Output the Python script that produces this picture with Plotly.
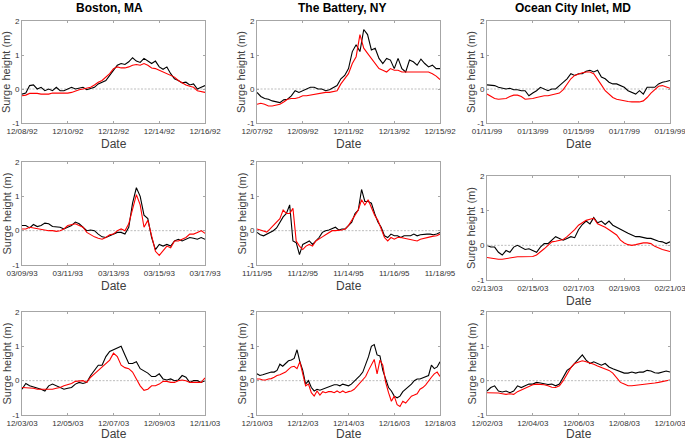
import numpy as np
import pandas as pd
import plotly.graph_objects as go

stations = ['Boston, MA', 'The Battery, NY', 'Ocean City Inlet, MD']

# ---- storm windows: start date, length (days), sampling step (hours)
bos92_start, bos92_days, bos92_step = '1992-12-08', 8, 4
bat92_start, bat92_days, bat92_step = '1992-12-07', 8, 4
oci99_start, oci99_days, oci99_step = '1999-01-11', 8, 4
bos93_start, bos93_days, bos93_step = '1993-03-09', 8, 4
bat95_start, bat95_days, bat95_step = '1995-11-11', 7, 3
oci03a_start, oci03a_days, oci03a_step = '2003-02-13', 8, 4
bos03_start, bos03_days, bos03_step = '2003-12-03', 8, 4
bat03_start, bat03_days, bat03_step = '2003-12-10', 8, 3
oci03b_start, oci03b_days, oci03b_step = '2003-12-02', 8, 4

# ---- tick labels
bos92_ticks = ['12/08/92', '12/10/92', '12/12/92', '12/14/92', '12/16/92']
bat92_ticks = ['12/07/92', '12/09/92', '12/11/92', '12/13/92', '12/15/92']
oci99_ticks = ['01/11/99', '01/13/99', '01/15/99', '01/17/99', '01/19/99']
bos93_ticks = ['03/09/93', '03/11/93', '03/13/93', '03/15/93', '03/17/93']
bat95_ticks = ['11/11/95', '11/12/95', '11/14/95', '11/16/95', '11/18/95']
oci03a_ticks = ['02/13/03', '02/15/03', '02/17/03', '02/19/03', '02/21/03']
bos03_ticks = ['12/03/03', '12/05/03', '12/07/03', '12/09/03', '12/11/03']
bat03_ticks = ['12/10/03', '12/12/03', '12/14/03', '12/16/03', '12/18/03']
oci03b_ticks = ['12/02/03', '12/04/03', '12/06/03', '12/08/03', '12/10/03']

# ---- observed (black) and modelled (red) surge, m
bos92_obs = [-0.15, -0.12, 0.1, 0.12, 0.0, 0.05, -0.05, 0.0, -0.05, 0.05, -0.05, -0.05,
             0.0, 0.05, 0.0, 0.02, 0.05, -0.02, 0.02, 0.05, 0.15, 0.2, 0.25, 0.4,
             0.55, 0.7, 0.75, 0.72, 0.8, 0.92, 0.82, 0.78, 0.9, 0.82, 0.75, 0.82,
             0.65, 0.58, 0.65, 0.45, 0.3, 0.25, 0.18, 0.2, 0.12, 0.15, 0.0, 0.05, 0.1]
bos92_mod = [-0.2, -0.18, -0.13, -0.12, -0.13, -0.15, -0.15, -0.15, -0.12, -0.12, -0.12, -0.13,
             -0.12, -0.1, -0.05, -0.02, 0.0, 0.02, 0.05, 0.12, 0.2, 0.25, 0.35, 0.45,
             0.6, 0.65, 0.62, 0.62, 0.65, 0.7, 0.72, 0.7, 0.75, 0.7, 0.62, 0.6,
             0.55, 0.5, 0.45, 0.42, 0.35, 0.25, 0.18, 0.12, 0.08, 0.05, -0.05, -0.08, -0.1]

bat92_obs = [-0.1, -0.22, -0.28, -0.3, -0.35, -0.38, -0.4, -0.32, -0.3, -0.2, -0.05, -0.1,
             -0.05, 0.0, 0.05, 0.05, 0.0, 0.0, -0.05, -0.02, 0.05, 0.1, 0.3, 0.4,
             0.6, 1.1, 1.3, 1.1, 1.75, 1.6, 1.15, 1.2, 0.9, 0.75, 0.9, 0.85,
             0.6, 0.9, 0.6, 0.5, 0.85, 0.8, 0.7, 0.88, 0.75, 0.65, 0.7, 0.6, 0.6]
bat92_mod = [-0.45, -0.42, -0.45, -0.5, -0.5, -0.48, -0.45, -0.38, -0.3, -0.28, -0.28, -0.25,
             -0.2, -0.2, -0.18, -0.15, -0.15, -0.12, -0.1, -0.1, -0.08, -0.05, 0.15, 0.3,
             0.45, 0.75, 0.95, 1.6, 1.2, 1.05, 0.9, 0.75, 0.6, 0.55, 0.5, 0.6,
             0.55, 0.55, 0.5, 0.5, 0.5, 0.5, 0.52, 0.52, 0.52, 0.5, 0.45, 0.38, 0.28]

oci99_obs = [0.12, 0.1, 0.1, 0.05, 0.02, 0.0, 0.02, -0.02, -0.02, -0.05, -0.05, -0.2,
             -0.12, -0.05, 0.05, 0.0, -0.05, 0.0, 0.0, 0.1, 0.2, 0.3, 0.45, 0.4,
             0.45, 0.45, 0.52, 0.55, 0.5, 0.55, 0.35, 0.3, 0.2, 0.15, 0.15, 0.1,
             0.05, -0.05, -0.1, -0.15, -0.05, -0.15, 0.05, 0.05, 0.05, 0.15, 0.2, 0.22, 0.25]
oci99_mod = [-0.15, -0.22, -0.28, -0.3, -0.3, -0.28, -0.22, -0.18, -0.18, -0.22, -0.3, -0.3,
             -0.28, -0.25, -0.22, -0.2, -0.2, -0.18, -0.15, -0.12, -0.02, 0.15, 0.3, 0.4,
             0.45, 0.48, 0.5, 0.5, 0.45, 0.3, 0.12, -0.05, -0.15, -0.25, -0.3, -0.33,
             -0.35, -0.37, -0.38, -0.38, -0.38, -0.35, -0.25, -0.12, -0.02, 0.08, 0.1, 0.05, 0.02]

bos93_obs = [0.15, 0.15, 0.08, 0.18, 0.12, 0.15, 0.22, 0.2, 0.12, 0.1, 0.1, 0.05,
             0.1, 0.15, 0.25, 0.2, 0.1, 0.0, 0.02, 0.0, -0.1, -0.18, -0.2, -0.15,
             -0.1, -0.05, -0.05, -0.1, 0.1, 0.8, 1.25, 1.0, 0.45, 0.35, -0.2, -0.55,
             -0.4, -0.45, -0.4, -0.45, -0.3, -0.25, -0.3, -0.25, -0.2, -0.22, -0.25, -0.2, -0.25]
bos93_mod = [0.05, 0.05, 0.1, 0.08, 0.05, 0.03, 0.02, 0.0, 0.0, -0.02, 0.0, 0.05,
             0.15, 0.18, 0.2, 0.15, 0.1, -0.05, -0.12, -0.18, -0.22, -0.25, -0.2, -0.12,
             -0.1, 0.0, 0.05, 0.0, 0.2, 0.6, 1.05, 0.75, 0.1, 0.3, -0.2, -0.6,
             -0.72, -0.6, -0.45, -0.5, -0.3, -0.3, -0.25, -0.2, -0.1, -0.1, -0.05, 0.0, -0.08]

bat95_obs = [-0.05, -0.12, -0.15, -0.1, -0.05, 0.0, 0.08, 0.25, 0.4, 0.5, 0.75, -0.3,
             -0.35, -0.7, -0.4, -0.35, -0.3, -0.4, -0.3, -0.2, -0.05, 0.0, 0.02, 0.05,
             0.1, 0.02, 0.05, 0.05, 0.15, 0.25, 0.5, 0.6, 1.2, 0.85, 0.85, 0.8,
             0.5, 0.25, 0.1, -0.15, -0.2, -0.1, -0.15, -0.15, -0.2, -0.15, -0.15, -0.15,
             -0.1, -0.15, -0.12, -0.1, -0.1, -0.1, -0.12, -0.1, -0.05]
bat95_mod = [0.05, 0.02, -0.03, -0.04, 0.05, 0.15, 0.22, 0.35, 0.6, 0.5, 0.5, 0.65,
             -0.3, -0.45, -0.55, -0.45, -0.4, -0.45, -0.3, -0.25, -0.18, -0.12, -0.05, 0.0,
             0.0, 0.0, 0.02, 0.05, 0.15, 0.3, 0.45, 0.6, 0.9, 0.75, 0.9, 0.65,
             0.45, 0.3, 0.05, -0.2, -0.3, -0.2, -0.25, -0.2, -0.2, -0.22, -0.25, -0.28,
             -0.3, -0.3, -0.25, -0.22, -0.2, -0.18, -0.16, -0.15, -0.1]

oci03a_obs = [0.0, -0.05, -0.05, -0.2, -0.28, -0.15, -0.2, -0.05, 0.0, -0.05, -0.12, -0.1,
              -0.15, -0.2, -0.05, 0.05, 0.05, 0.15, 0.25, 0.2, 0.15, 0.2, 0.25, 0.22,
              0.45, 0.6, 0.7, 0.62, 0.8, 0.65, 0.7, 0.6, 0.7, 0.58, 0.52, 0.45,
              0.4, 0.35, 0.3, 0.25, 0.25, 0.22, 0.2, 0.2, 0.15, 0.12, 0.1, 0.05, 0.1]
oci03a_mod = [-0.35, -0.37, -0.38, -0.4, -0.4, -0.38, -0.35, -0.35, -0.33, -0.33, -0.33, -0.32,
              -0.32, -0.28, -0.2, -0.1, 0.0, 0.1, 0.12, 0.14, 0.17, 0.25, 0.35, 0.45,
              0.58, 0.65, 0.72, 0.75, 0.78, 0.62, 0.58, 0.52, 0.45, 0.38, 0.3, 0.15,
              0.07, 0.02, 0.0, 0.02, 0.05, 0.07, 0.07, 0.05, -0.03, -0.08, -0.12, -0.15, -0.18]

bos03_obs = [-0.25, -0.08, -0.15, -0.18, -0.22, -0.25, -0.3, -0.15, -0.1, -0.15, -0.22, -0.25,
             -0.22, -0.2, -0.1, -0.05, -0.08, -0.05, 0.15, 0.3, 0.45, 0.45, 0.7, 0.85,
             0.9, 0.95, 1.0, 0.75, 0.5, 0.5, 0.55, 0.35, 0.28, 0.22, 0.12, 0.12,
             0.2, 0.05, 0.02, 0.05, 0.0, 0.02, 0.15, 0.1, -0.05, 0.0, 0.0, -0.05, 0.0]
bos03_mod = [-0.2, -0.2, -0.2, -0.22, -0.25, -0.25, -0.25, -0.25, -0.25, -0.22, -0.2, -0.15,
             -0.12, -0.08, -0.02, 0.0, 0.0, -0.05, 0.1, 0.2, 0.3, 0.4, 0.5, 0.6,
             0.8, 0.7, 0.45, 0.38, 0.35, 0.25, 0.05, -0.15, -0.28, -0.25, -0.15, -0.15,
             -0.1, -0.02, -0.02, -0.05, -0.05, 0.0, 0.02, 0.0, -0.05, -0.05, -0.05, -0.05, 0.08]

bat03_obs = [0.2, 0.15, 0.17, 0.2, 0.22, 0.25, 0.25, 0.3, 0.48, 0.42, 0.5, 0.58,
             0.6, 0.65, 0.9, 0.55, 0.3, -0.1, 0.0, -0.2, -0.3, -0.25, -0.28, -0.25,
             -0.2, -0.18, -0.15, -0.12, -0.12, -0.15, -0.1, -0.12, -0.15, -0.1, -0.02, 0.05,
             0.15, 0.25, 0.45, 0.7, 1.0, 1.05, 0.75, 0.72, 0.3, 0.05, -0.2, -0.3,
             -0.45, -0.5, -0.45, -0.32, -0.25, -0.18, -0.1, 0.0, 0.05, 0.05, 0.08, 0.1,
             0.15, 0.45, 0.35, 0.4, 0.55]
bat03_mod = [0.05, 0.05, 0.02, 0.02, 0.05, 0.06, 0.1, 0.15, 0.17, 0.2, 0.25, 0.33,
             0.4, 0.42, 0.35, 0.55, 0.15, -0.15, -0.1, -0.35, -0.45, -0.3, -0.42, -0.32,
             -0.35, -0.32, -0.32, -0.35, -0.3, -0.35, -0.3, -0.35, -0.32, -0.3, -0.25, -0.15,
             -0.05, 0.05, 0.12, 0.3, 0.45, 0.62, 0.2, 0.6, 0.45, -0.05, -0.35, -0.6,
             -0.45, -0.7, -0.75, -0.6, -0.65, -0.55, -0.45, -0.42, -0.38, -0.25, -0.2, -0.12,
             0.0, 0.1, 0.2, 0.25, 0.12]

oci03b_obs = [-0.3, -0.2, -0.15, -0.3, -0.33, -0.3, -0.35, -0.3, -0.15, -0.2, -0.15, -0.1,
              -0.1, -0.05, -0.07, -0.1, -0.11, -0.1, -0.15, -0.1, 0.1, 0.3, 0.38, 0.5,
              0.62, 0.75, 0.6, 0.5, 0.55, 0.5, 0.45, 0.5, 0.4, 0.35, 0.3, 0.25,
              0.22, 0.22, 0.25, 0.22, 0.25, 0.25, 0.3, 0.28, 0.23, 0.22, 0.25, 0.28, 0.25]
oci03b_mod = [-0.35, -0.35, -0.35, -0.36, -0.38, -0.4, -0.38, -0.4, -0.32, -0.27, -0.22, -0.17,
              -0.12, -0.1, -0.1, -0.12, -0.15, -0.19, -0.2, -0.15, 0.0, 0.2, 0.38, 0.5,
              0.55, 0.58, 0.55, 0.52, 0.48, 0.43, 0.38, 0.33, 0.3, 0.22, 0.1, -0.05,
              -0.1, -0.15, -0.15, -0.14, -0.13, -0.12, -0.1, -0.09, -0.07, -0.05, -0.02, 0.0, 0.02]

panels = [
    (bos92_start, bos92_days, bos92_step, bos92_obs, bos92_mod, bos92_ticks),
    (bat92_start, bat92_days, bat92_step, bat92_obs, bat92_mod, bat92_ticks),
    (oci99_start, oci99_days, oci99_step, oci99_obs, oci99_mod, oci99_ticks),
    (bos93_start, bos93_days, bos93_step, bos93_obs, bos93_mod, bos93_ticks),
    (bat95_start, bat95_days, bat95_step, bat95_obs, bat95_mod, bat95_ticks),
    (oci03a_start, oci03a_days, oci03a_step, oci03a_obs, oci03a_mod, oci03a_ticks),
    (bos03_start, bos03_days, bos03_step, bos03_obs, bos03_mod, bos03_ticks),
    (bat03_start, bat03_days, bat03_step, bat03_obs, bat03_mod, bat03_ticks),
    (oci03b_start, oci03b_days, oci03b_step, oci03b_obs, oci03b_mod, oci03b_ticks),
]

W, H = 685, 441
# plot boxes in pixels: (left, right) per column, (top, bottom) per panel
col_px = [(22, 205), (257, 440), (487, 670)]
row_px = [[(21, 123), (21, 123), (21, 123)],
          [(162, 265), (162, 265), (176, 280)],
          [(312, 415), (312, 415), (312, 415)]]

FONT = 'Liberation Sans, Arial, sans-serif'
frame = '#a6a6a6'

fig = go.Figure()
layout = dict(width=W, height=H, margin=dict(l=0, r=0, t=0, b=0, autoexpand=False),
              paper_bgcolor='white', plot_bgcolor='white',
              showlegend=False, font=dict(family=FONT, size=8, color='#333333'))
annotations = []
shapes = []

for k, (start, days, step, obs, mod, ticks) in enumerate(panels):
    r, c = divmod(k, 3)
    n = '' if k == 0 else str(k + 1)
    t0 = pd.Timestamp(start)
    t = pd.date_range(t0, periods=len(obs), freq=f'{step}h')
    t_end = t0 + pd.Timedelta(days=days)
    tickvals = [t0 + (t_end - t0) * j / 4 for j in range(5)]

    fig.add_trace(go.Scatter(x=t, y=obs, mode='lines', xaxis='x' + n, yaxis='y' + n,
                             line=dict(color='black', width=1.1)))
    fig.add_trace(go.Scatter(x=t, y=mod, mode='lines', xaxis='x' + n, yaxis='y' + n,
                             line=dict(color='#ff0000', width=1.1)))

    x0, x1 = col_px[c]
    y0, y1 = row_px[r][c]
    layout['xaxis' + n] = dict(
        domain=[x0 / W, x1 / W], anchor='y' + n, type='date', automargin=False,
        range=[t0, t_end], tickvals=tickvals, ticktext=ticks, ticklabeloverflow='allow',
        ticks='inside', ticklen=2, tickcolor=frame, showgrid=False, zeroline=False,
        showline=True, linecolor=frame, linewidth=1, mirror='ticks',
        tickfont=dict(size=8, color='#333333'))
    layout['yaxis' + n] = dict(
        domain=[1 - y1 / H, 1 - y0 / H], anchor='x' + n, automargin=False,
        range=[-1, 2], tickvals=[-1, 0, 1, 2], ticktext=['-1', '0', '1', '2'],
        ticks='inside', ticklen=2, tickcolor=frame, showgrid=False, zeroline=False,
        showline=True, linecolor=frame, linewidth=1, mirror='ticks',
        tickfont=dict(size=8, color='#333333'))

    shapes.append(dict(type='line', xref=f'x{n} domain', yref='y' + n,
                       x0=0, x1=1, y0=0, y1=0, layer='below',
                       line=dict(color='#a0a0a0', width=0.7, dash='2px,1.5px')))

    annotations.append(dict(text='Surge height (m)', textangle=-90, showarrow=False,
                            xref='paper', yref='paper', x=(x0 - 16) / W, y=1 - (y0 + y1) / 2 / H,
                            xanchor='center', yanchor='middle',
                            font=dict(size=11, color='#404040')))
    annotations.append(dict(text='Date', showarrow=False, xref='paper', yref='paper',
                            x=(x0 + x1) / 2 / W, y=1 - min(y1 + 21, 434) / H,
                            xanchor='center', yanchor='middle',
                            font=dict(size=12, color='#404040')))

title_x = [109, 342, 573]
for c, name in enumerate(stations):
    annotations.append(dict(text='<b>' + name + '</b>', showarrow=False,
                            xref='paper', yref='paper', x=title_x[c] / W, y=1 - 8 / H,
                            xanchor='center', yanchor='middle',
                            font=dict(size=12, color='black')))

layout['annotations'] = annotations
layout['shapes'] = shapes
fig.update_layout(**layout)

# the page's default body margin would push the figure off the 685x441 window
fig.write_html("out.html", config={'displayModeBar': False},
               post_script="document.body.style.margin='0';")
